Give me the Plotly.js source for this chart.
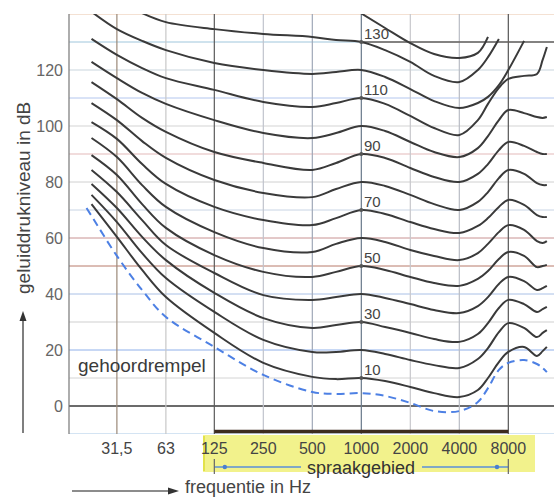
<!DOCTYPE html>
<html><head><meta charset="utf-8">
<script src="https://cdn.plot.ly/plotly-3.0.1.min.js"></script>
<style>html,body{margin:0;padding:0;background:#fff}</style>
</head><body><div id="chart" style="width:554px;height:497px"></div>
<script>
// frequency grid (Hz)
const freqs = [20.5, 22, 31.5, 45, 63, 125, 250, 500, 700, 1000, 1400, 2000, 2800, 4000, 5200, 6000, 7000, 8000, 10000, 12000, 13000, 13800];
// equal-loudness contours (dB) per phon level
const phon10  = [null, 72.1, 60.4, 48.6, 38.9, 26.1, 15.4, 10.4, 9.6, 10, 8.9, 6.8, 4.6, 3.2, 5.7, 10, 15.7, 19.3, 21.1, 17.9, 19.6, 21.1];
const phon20  = [null, 75.4, 65.7, 54.6, 45.7, 33.6, 23.6, 19.3, 19.3, 20, 18.6, 16.4, 14.6, 13.6, 16.8, 20.7, 26.4, 29.6, 27.9, 24.6, 26.1, 27.1];
const phon30  = [null, 79.3, 70.7, 60.4, 52.1, 40.4, 31.4, 27.9, 28.9, 30, 28.2, 26.1, 23.9, 22.9, 25.7, 29.6, 35, 37.9, 36.4, 33.6, 34.6, 35.4];
const phon40  = [null, 84.3, 76.4, 66.4, 57.5, 47.5, 39.6, 37.9, 38.9, 40, 38.6, 36.4, 34.3, 33.2, 35.7, 38.9, 43.6, 46.1, 44.6, 41.4, 42.1, 42.9];
const phon50  = [null, 89.6, 82.5, 72.1, 63.6, 53.9, 47.9, 46.1, 47.9, 50, 48.6, 46.1, 43.9, 42.9, 45.4, 48.2, 52.5, 55, 53.6, 49.6, 50, 50.4];
const phon60  = [null, 95.7, 88.9, 78.9, 71.1, 62.1, 56.4, 55, 57.9, 60, 58.6, 55.7, 53.6, 52.1, 54.6, 57.9, 62.1, 64.6, 62.9, 58.9, 58.2, 58.9];
const phon70  = [null, 101.4, 95.4, 86.4, 79.3, 71.1, 66.4, 64.6, 67.1, 70, 68.6, 65.7, 63.2, 61.8, 64.3, 67.1, 71.1, 73.6, 71.8, 68.2, 67.5, 67.5];
const phon80  = [null, 108.2, 102.1, 94.6, 88.6, 80.7, 76.1, 74.6, 77.5, 80, 78.6, 75.4, 72.1, 70, 72.9, 76.4, 81.4, 84.3, 82.9, 79.6, 78.9, 78.9];
const phon90  = [null, 115.7, 109.6, 102.9, 97.9, 90.7, 86.8, 84.3, 86.8, 90, 88.6, 85, 81.8, 80, 82.9, 86.4, 91.4, 94.3, 92.9, 90.7, 90, 90];
const phon100 = [null, 122.9, 117.1, 111.8, 107.9, 102.1, 97.5, 95.7, 97.5, 100, 98.2, 94.3, 90.7, 88.9, 92.1, 96.4, 102.1, 105.7, 104.6, 103.2, 102.9, 103.2];
const phon110 = [null, 131.1, 125.4, 120.7, 117.1, 112.9, 108.6, 106.8, 108.2, 110, 107.9, 103.6, 99.3, 96.8, 102.1, 107.9, 113.6, 116.8, 117.9, 118.6, 123.6, 128.2];
const phon120 = [null, 140.8, 134.6, 130.4, 127.1, 122.5, 120, 118.6, 119.3, 120, 117.5, 113.2, 108.9, 106.4, 108.2, 110.4, 114.6, 120, 130.4, null, null, null];
const phon130 = [null, null, null, 140.3, 137.1, 134.6, 132.9, 131.8, 130.7, 130, 127.1, 122.9, 117.9, 115.7, 120, 124.6, 131.1, null, null, null, null, null];
const phon140 = [null, null, null, null, null, null, null, null, null, 140.2, 135, 129.6, 125.7, 124.3, 126.1, 131.8, null, null, null, null, null, null];
// hearing threshold (gehoordrempel)
const threshold = [70.7, 67.9, 53.6, 41.4, 31.8, 21.1, 11.1, 5, 4.3, 4.6, 3.6, 1.1, -1.8, -1.8, 1.4, 6.4, 12.9, 15.4, 16.4, 15, 13.6, 12.1];

const contours = [phon10, phon20, phon30, phon40, phon50, phon60, phon70, phon80, phon90, phon100, phon110, phon120, phon130, phon140];
const labelledPhons = [10, 30, 50, 70, 90, 110, 130];
const xTickVals = [31.5, 63, 125, 250, 500, 1000, 2000, 4000, 8000];
const xTickText = ["31,5", "63", "125", "250", "500", "1000", "2000", "4000", "8000"];
const yTickVals = [0, 20, 40, 60, 80, 100, 120];
const hGridVals = [-10, 0, 10, 20, 30, 40, 50, 60, 70, 80, 90, 100, 110, 120, 130, 140];
const speechRange = [125, 8000];
const speechDots = [145, 6815];

// styles
const hGridColors = ['#a9c8e6', '#3a3a3a', '#d4d4d4', '#8fb0ea', '#cfcfcf', '#a9c0e6', '#b87a6a', '#c89292', '#c8d4e4', '#d0d0d0', '#e3b9b9', '#d3d3d3', '#b3c6ee', '#c9d5dd', '#9fc6dc', '#e9c3a8'];
const vGridColors = ['#9b8878', '#c8c8c8', '#5a5a5a', '#c0c4cc', '#a0a8b8', '#68788a', '#c8c8cc', '#b8bcc4', '#555555'];

const L = Math.log10;
const xMin = 16, xMax = 15267;
const FONT = 'Liberation Sans, Arial, sans-serif';
// map a frequency onto the x axis fraction (same log scale as the axis)
const fx = f => (L(f) - L(xMin)) / (L(xMax) - L(xMin));
const px = x => (x - 69) / 485, py = y => (434 - y) / 420;

const traces = contours.map(c => ({
  x: freqs, y: c, type: 'scatter', mode: 'lines',
  line: {color: '#3a3a3a', width: 2, shape: 'spline', smoothing: 1},
  hoverinfo: 'skip', showlegend: false
}));
traces.push({
  x: freqs, y: threshold, type: 'scatter', mode: 'lines',
  line: {color: '#4d80e4', width: 2, dash: '8px,5px', shape: 'spline', smoothing: 1},
  hoverinfo: 'skip', showlegend: false
});
traces.push({
  x: labelledPhons.map(() => 1000), y: labelledPhons, type: 'scatter', mode: 'markers',
  marker: {color: '#555', size: 4}, hoverinfo: 'skip', showlegend: false
});

const shapes = [];
// yellow highlight under speech range labels
shapes.push({type: 'rect', layer: 'below', xref: 'paper', yref: 'paper',
  x0: px(203), x1: px(535), y0: py(435), y1: py(472),
  fillcolor: '#f2f28c', line: {width: 0}});
shapes.push({type: 'line', layer: 'below', xref: 'paper', yref: 'paper',
  x0: px(204), x1: px(204), y0: py(436), y1: py(471),
  line: {color: '#e2e24a', width: 2}});
hGridVals.forEach((v, i) => shapes.push({type: 'line', layer: 'below', xref: 'paper', yref: 'y',
  x0: 0, x1: 1, y0: v, y1: v, line: {color: hGridColors[i], width: v === 0 ? 1.5 : 1}}));
xTickVals.forEach((v, i) => shapes.push({type: 'line', layer: 'below', xref: 'paper', yref: 'paper',
  x0: fx(v), x1: fx(v), y0: 0, y1: 1, line: {color: vGridColors[i], width: 1.2}}));
// left axis
shapes.push({type: 'line', layer: 'below', xref: 'paper', yref: 'paper', x0: 0, x1: 0, y0: 0, y1: 1,
  line: {color: '#777', width: 1.2}});
// dark 130 dB line right of 1000 Hz
shapes.push({type: 'line', layer: 'below', xref: 'paper', yref: 'y', x0: fx(1000), x1: 1, y0: 130, y1: 130,
  line: {color: '#6a625c', width: 1.5}});
// brown bar along the bottom for the speech range
shapes.push({type: 'line', layer: 'above', xref: 'paper', yref: 'paper', x0: fx(speechRange[0]), x1: fx(speechRange[1]),
  y0: py(431.5), y1: py(431.5), line: {color: '#3d2b1f', width: 3.5}});
// speech range arrow line, broken around the label
const ySp = py(467);
shapes.push({type: 'line', layer: 'above', xref: 'paper', yref: 'paper', x0: fx(speechRange[0]), x1: px(301),
  y0: ySp, y1: ySp, line: {color: '#5a8fd8', width: 1.5}});
shapes.push({type: 'line', layer: 'above', xref: 'paper', yref: 'paper', x0: px(422), x1: fx(speechRange[1]),
  y0: ySp, y1: ySp, line: {color: '#5a8fd8', width: 1.5}});
speechRange.forEach(f => shapes.push({type: 'line', layer: 'above', xref: 'paper', yref: 'paper',
  x0: fx(f), x1: fx(f), y0: py(459), y1: py(474), line: {color: '#666', width: 1.2}}));
speechDots.forEach(f => shapes.push({type: 'circle', layer: 'above', xref: 'paper', yref: 'paper',
  xsizemode: 'pixel', ysizemode: 'pixel', xanchor: fx(f), yanchor: ySp, x0: -2.2, x1: 2.2, y0: -2.2, y1: 2.2,
  fillcolor: '#4a7fd0', line: {width: 0}}));
// axis arrows
shapes.push({type: 'line', layer: 'above', xref: 'paper', yref: 'paper', x0: px(23), x1: px(23), y0: py(433), y1: py(320),
  line: {color: '#555', width: 1.5}});
shapes.push({type: 'path', layer: 'above', xref: 'paper', yref: 'paper',
  path: `M${px(23)},${py(311)} L${px(19.5)},${py(321)} L${px(26.5)},${py(321)} Z`, fillcolor: '#333', line: {width: 0}});
shapes.push({type: 'line', layer: 'above', xref: 'paper', yref: 'paper', x0: px(72), x1: px(170), y0: py(491), y1: py(491),
  line: {color: '#666', width: 1.5}});
shapes.push({type: 'path', layer: 'above', xref: 'paper', yref: 'paper',
  path: `M${px(179)},${py(491)} L${px(168)},${py(487.5)} L${px(168)},${py(494.5)} Z`, fillcolor: '#333', line: {width: 0}});

const annotations = [];
labelledPhons.forEach(p => annotations.push({x: fx(1000), y: p, xref: 'paper', yref: 'y', text: String(p),
  showarrow: false, xanchor: 'left', yanchor: 'middle', xshift: 1, yshift: 9,
  font: {size: 15, color: '#444', family: FONT}}));
annotations.push({x: px(76), y: (406 - 365) / 2.8, xref: 'paper', yref: 'y', text: 'gehoordrempel',
  showarrow: false, xanchor: 'left', yanchor: 'middle', font: {size: 19, color: '#3a3a3a', family: FONT}});
annotations.push({x: fx(1000), y: py(468), xref: 'paper', yref: 'paper', text: 'spraakgebied', showarrow: false,
  xanchor: 'center', yanchor: 'middle', borderpad: 0,
  font: {size: 18, color: '#333', family: FONT}});
annotations.push({x: px(23), y: py(198), xref: 'paper', yref: 'paper', text: 'geluiddrukniveau in dB',
  textangle: -90, showarrow: false, xanchor: 'center', yanchor: 'middle',
  font: {size: 19, color: '#444', family: FONT}});
annotations.push({x: px(184), y: py(487), xref: 'paper', yref: 'paper', text: 'frequentie in Hz',
  showarrow: false, xanchor: 'left', yanchor: 'middle', borderpad: 0, font: {size: 18, color: '#444', family: FONT}});

const layout = {
  width: 554, height: 497,
  margin: {l: 69, r: 0, t: 14, b: 63},
  paper_bgcolor: '#fff', plot_bgcolor: '#fff',
  font: {family: FONT},
  showlegend: false,
  xaxis: {type: 'log', range: [L(xMin), L(xMax)], tickvals: xTickVals, ticktext: xTickText,
    showgrid: false, zeroline: false, showline: false, ticks: '', ticklabelstandoff: 3,
    tickfont: {size: 16, color: '#444', family: FONT}},
  yaxis: {range: [-10, 140], tickvals: yTickVals, ticktext: yTickVals.map(String),
    showgrid: false, zeroline: false, showline: false, ticks: '', ticklabelstandoff: 5,
    tickfont: {size: 16, color: '#666', family: FONT}},
  shapes: shapes, annotations: annotations
};
Plotly.newPlot('chart', traces, layout, {displayModeBar: false, staticPlot: true});
</script></body></html>
